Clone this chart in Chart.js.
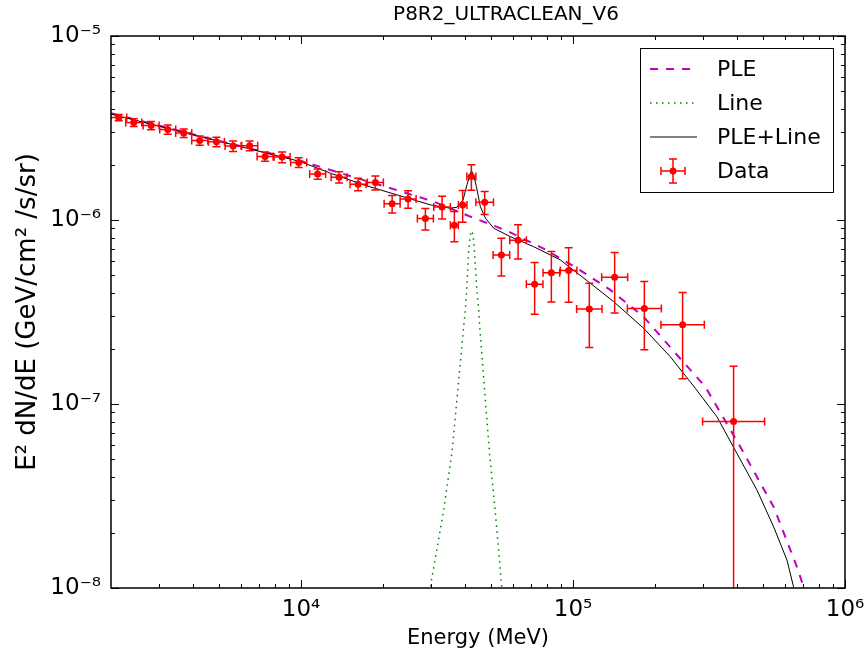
<!DOCTYPE html>
<html>
<head>
<meta charset="utf-8">
<script src="https://cdn.jsdelivr.net/npm/chart.js@4.4.1/dist/chart.umd.min.js"></script>
<style>
  html, body { margin: 0; padding: 0; background: #fff; }
  #wrap { width: 865px; height: 654px; }
</style>
</head>
<body>
<div id="wrap"><canvas id="sedChart" width="865" height="654"></canvas></div>
<script>
// binned data: energy (MeV), bin edges, E^2 dN/dE and its error
const energy = [2135, 2425, 2809, 3233, 3702, 4238, 4882, 5623, 6471, 7373, 8514, 9799,
  11508, 13795, 16203, 18759, 21613, 24743, 28642, 32994, 36609, 39283, 42278, 47315,
  54513, 62791, 72246, 83218, 96340, 114770, 142230, 182900, 252900, 389400];
const eLow = [1995, 2266, 2625, 3021, 3459, 3960, 4562, 5255, 6047, 6890, 7956, 9157,
  10754, 12891, 15141, 17530, 20197, 23122, 26766, 30755, 35392, 37878, 40699, 43920,
  50814, 58530, 67344, 77571, 89802, 103071, 127412, 158382, 210487, 299492];
const eHigh = [2285, 2595, 3006, 3460, 3962, 4535, 5224, 6017, 6925, 7890, 9111, 10486,
  12315, 14762, 17339, 20074, 23128, 26477, 30650, 35396, 37868, 40740, 43918, 50972,
  58482, 67362, 77506, 89276, 103354, 127796, 158771, 211213, 303859, 506298];
const flux = [3.606e-6, 3.388e-6, 3.263e-6, 3.104e-6, 2.967e-6, 2.704e-6, 2.660e-6, 2.521e-6,
  2.531e-6, 2.213e-6, 2.197e-6, 2.053e-6, 1.781e-6, 1.709e-6, 1.566e-6, 1.597e-6,
  1.224e-6, 1.302e-6, 1.018e-6, 1.178e-6, 9.37e-7, 1.208e-6, 1.726e-6, 1.250e-6,
  6.46e-7, 7.77e-7, 4.47e-7, 5.16e-7, 5.32e-7, 3.28e-7, 4.89e-7, 3.30e-7, 2.70e-7, 8.04e-8];
const fluxErr = [1.38e-7, 1.61e-7, 1.68e-7, 1.80e-7, 1.60e-7, 1.57e-7, 1.61e-7, 1.63e-7,
  1.53e-7, 1.28e-7, 1.48e-7, 1.24e-7, 1.15e-7, 1.22e-7, 1.22e-7, 1.40e-7,
  1.34e-7, 1.42e-7, 1.36e-7, 1.66e-7, 1.75e-7, 2.37e-7, 2.73e-7, 1.79e-7,
  1.50e-7, 1.64e-7, 1.40e-7, 1.58e-7, 1.75e-7, 1.25e-7, 1.77e-7, 1.33e-7, 1.33e-7, 7.98e-8];

// model curves
const pleEnergy = [2000, 4264, 9941, 16065, 21900, 30730, 41930, 57200, 77600, 103400,
  137100, 181800, 244400, 306500, 412200, 546500, 666000, 704300, 777800];
const pleFlux = [3.80e-6, 2.85e-6, 2.097e-6, 1.688e-6, 1.471e-6, 1.259e-6, 1.043e-6, 8.73e-7,
  7.02e-7, 5.47e-7, 4.17e-7, 2.98e-7, 1.806e-7, 1.241e-7, 5.85e-8, 2.76e-8, 1.30e-8, 1.013e-8, 6.5e-9];

const lineEnergy = [29760, 30060, 31620, 33440, 35900, 39610, 40180, 40770, 41330, 41930, 42390,
  42900, 43370, 44120, 44980, 45370, 49250, 51500, 53280, 54510, 54970];
const lineFlux = [9.47e-9, 1.074e-8, 1.638e-8, 2.65e-8, 5.49e-8, 2.63e-7, 3.24e-7, 4.53e-7, 6.88e-7,
  8.30e-7, 8.73e-7, 8.30e-7, 6.88e-7, 4.53e-7, 3.24e-7, 2.63e-7, 5.49e-8, 2.82e-8, 1.604e-8,
  1.057e-8, 9.36e-9];

const sumEnergy = [2000, 4264, 9941, 12815, 16990, 22540, 29890, 35390, 37460, 39410, 40770, 42280,
  43190, 44120, 45620, 47610, 51070, 58830, 71640, 89780, 115800, 141000, 181800, 227900,
  281700, 338200, 400700, 474900, 546500, 612100, 647100, 685000];
const sumFlux = [3.763e-6, 2.84e-6, 2.078e-6, 1.797e-6, 1.552e-6, 1.369e-6, 1.208e-6, 1.159e-6,
  1.174e-6, 1.286e-6, 1.562e-6, 1.857e-6, 1.738e-6, 1.519e-6, 1.183e-6, 1.023e-6, 9.02e-7,
  8.12e-7, 7.16e-7, 6.07e-7, 4.53e-7, 3.60e-7, 2.58e-7, 1.806e-7, 1.216e-7, 8.52e-8, 5.38e-8,
  3.40e-8, 2.15e-8, 1.415e-8, 1.013e-8, 7.1e-9];

const xTicks = [1e4, 1e5, 1e6];
const yTicks = [1e-8, 1e-7, 1e-6, 1e-5];
const chartTitle = "P8R2_ULTRACLEAN_V6";

const SUP = { "-": "\u207B", "0": "\u2070", "1": "\u00B9", "2": "\u00B2", "3": "\u00B3",
  "4": "\u2074", "5": "\u2075", "6": "\u2076", "7": "\u2077", "8": "\u2078", "9": "\u2079" };
function powLabel(v) {
  let p = String(Math.round(Math.log10(v)));
  return "10" + p.split("").map(c => SUP[c]).join("");
}

function pts(xs, ys) {
  return xs.map((x, i) => ({ x: x, y: ys[i] }));
}

// title above the axes
const axesTitle = {
  id: "axesTitle",
  afterDraw(chart) {
    const ctx = chart.ctx, a = chart.chartArea;
    ctx.save();
    ctx.fillStyle = "#000";
    ctx.font = "20px 'DejaVu Sans'";
    ctx.textAlign = "center";
    ctx.textBaseline = "middle";
    ctx.fillText(chartTitle, (a.left + a.right) / 2 + 28, a.top - 21);
    ctx.restore();
  }
};

// inward ticks on all four sides + frame
const frameTicks = {
  id: "frameTicks",
  afterDraw(chart) {
    const ctx = chart.ctx, a = chart.chartArea;
    const xs = chart.scales.x, ys = chart.scales.y;
    ctx.save();
    ctx.strokeStyle = "#000";
    ctx.lineWidth = 1;
    const xmaj = [], xmin = [], ymaj = [], ymin = [];
    for (let d = 3; d <= 6; d++) {
      for (let m = 1; m <= 9; m++) {
        let v = m * Math.pow(10, d);
        if (v <= 2000 || v > 1e6) continue;
        (m === 1 ? xmaj : xmin).push(v);
      }
    }
    for (let d = -8; d <= -5; d++) {
      for (let m = 1; m <= 9; m++) {
        let v = m * Math.pow(10, d);
        if (v > 1.0001e-5) continue;
        (m === 1 ? ymaj : ymin).push(v);
      }
    }
    ctx.beginPath();
    xmaj.concat(xmin).forEach(v => {
      let px = Math.round(xs.getPixelForValue(v)) + 0.5;
      let len = xmaj.includes(v) ? 8 : 4;
      ctx.moveTo(px, a.bottom); ctx.lineTo(px, a.bottom - len);
      ctx.moveTo(px, a.top); ctx.lineTo(px, a.top + len);
    });
    ymaj.concat(ymin).forEach(v => {
      let py = Math.round(ys.getPixelForValue(v)) + 0.5;
      let len = ymaj.includes(v) ? 8 : 4;
      ctx.moveTo(a.left, py); ctx.lineTo(a.left + len, py);
      ctx.moveTo(a.right, py); ctx.lineTo(a.right - len, py);
    });
    ctx.stroke();
    ctx.lineWidth = 1.5;
    ctx.strokeRect(a.left, a.top, a.right - a.left, a.bottom - a.top);
    ctx.restore();
  }
};

// error bars under the data markers
const errorBars = {
  id: "errorBars",
  beforeDatasetDraw(chart, args) {
    if (args.index !== 0) return;
    const ctx = chart.ctx, a = chart.chartArea;
    const xs = chart.scales.x, ys = chart.scales.y;
    ctx.save();
    ctx.beginPath();
    ctx.rect(a.left, a.top, a.right - a.left, a.bottom - a.top);
    ctx.clip();
    ctx.strokeStyle = "#ff0000";
    ctx.lineWidth = 1.5;
    const cap = 4;
    ctx.beginPath();
    energy.forEach((e, i) => {
      const px = xs.getPixelForValue(e);
      const py = ys.getPixelForValue(flux[i]);
      const lo = flux[i] - fluxErr[i];
      const yTop = ys.getPixelForValue(flux[i] + fluxErr[i]);
      const yBot = lo > 0 ? ys.getPixelForValue(lo) : a.bottom + 10;
      const xl = xs.getPixelForValue(eLow[i]);
      const xr = xs.getPixelForValue(eHigh[i]);
      ctx.moveTo(px, yTop); ctx.lineTo(px, yBot);
      ctx.moveTo(px - cap, yTop); ctx.lineTo(px + cap, yTop);
      ctx.moveTo(px - cap, yBot); ctx.lineTo(px + cap, yBot);
      ctx.moveTo(xl, py); ctx.lineTo(xr, py);
      ctx.moveTo(xl, py - cap); ctx.lineTo(xl, py + cap);
      ctx.moveTo(xr, py - cap); ctx.lineTo(xr, py + cap);
    });
    ctx.stroke();
    ctx.restore();
  }
};

// matplotlib-like legend box in the upper right
const boxLegend = {
  id: "boxLegend",
  afterDraw(chart) {
    const ctx = chart.ctx, a = chart.chartArea;
    const ds = chart.data.datasets;
    const order = [3, 2, 1, 0];
    const w = 193, h = 144;
    const x0 = a.right - 12 - w, y0 = a.top + 12;
    ctx.save();
    ctx.fillStyle = "#fff";
    ctx.fillRect(x0, y0, w, h);
    ctx.strokeStyle = "#000";
    ctx.lineWidth = 1;
    ctx.strokeRect(x0 + 0.5, y0 + 0.5, w, h);
    ctx.font = "22px 'DejaVu Sans'";
    ctx.textBaseline = "middle";
    order.forEach((di, k) => {
      const d = ds[di];
      const cy = y0 + 21 + k * 34;
      if (di === 0) {
        const cx = x0 + 33;
        ctx.strokeStyle = d.backgroundColor;
        ctx.lineWidth = 1.5;
        ctx.setLineDash([]);
        ctx.beginPath();
        ctx.moveTo(cx - 12, cy); ctx.lineTo(cx + 12, cy);
        ctx.moveTo(cx - 12, cy - 4); ctx.lineTo(cx - 12, cy + 4);
        ctx.moveTo(cx + 12, cy - 4); ctx.lineTo(cx + 12, cy + 4);
        ctx.moveTo(cx, cy - 12); ctx.lineTo(cx, cy + 12);
        ctx.moveTo(cx - 4, cy - 12); ctx.lineTo(cx + 4, cy - 12);
        ctx.moveTo(cx - 4, cy + 12); ctx.lineTo(cx + 4, cy + 12);
        ctx.stroke();
        ctx.fillStyle = d.backgroundColor;
        ctx.beginPath();
        ctx.arc(cx, cy, 3.5, 0, Math.PI * 2);
        ctx.fill();
      } else {
        ctx.strokeStyle = d.borderColor;
        ctx.lineWidth = d.borderWidth;
        ctx.setLineDash(d.borderDash || []);
        ctx.beginPath();
        ctx.moveTo(x0 + 10, cy); ctx.lineTo(x0 + 57, cy);
        ctx.stroke();
      }
      ctx.setLineDash([]);
      ctx.fillStyle = "#000";
      ctx.fillText(d.label, x0 + 77, cy + 1);
    });
    ctx.restore();
  }
};

new Chart("sedChart", {
  type: "scatter",
  data: {
    datasets: [
      {
        label: "Data",
        data: pts(energy, flux),
        backgroundColor: "#ff0000",
        borderWidth: 0,
        pointRadius: 3.5,
        showLine: false
      },
      {
        label: "PLE+Line",
        data: pts(sumEnergy, sumFlux),
        showLine: true,
        borderColor: "#000000",
        borderWidth: 1,
        pointRadius: 0
      },
      {
        label: "Line",
        data: pts(lineEnergy, lineFlux),
        showLine: true,
        borderColor: "#008000",
        borderWidth: 1.5,
        borderDash: [1.5, 4.5],
        pointRadius: 0
      },
      {
        label: "PLE",
        data: pts(pleEnergy, pleFlux),
        showLine: true,
        borderColor: "#bf00bf",
        borderWidth: 2,
        borderDash: [8, 8],
        pointRadius: 0
      }
    ]
  },
  options: {
    responsive: false,
    animation: false,
    events: [],
    layout: { padding: { left: 0, right: 20, top: 36, bottom: 0 } },
    plugins: {
      legend: { display: false },
      tooltip: { enabled: false },
      title: { display: false }
    },
    scales: {
      x: {
        type: "logarithmic",
        min: 2000,
        max: 1e6,
        grid: { display: false, drawTicks: false },
        border: { display: false },
        afterBuildTicks: s => { s.ticks = xTicks.map(v => ({ value: v })); },
        afterFit: s => { s.height = 66; s.paddingLeft = 0; s.paddingRight = 0; },
        ticks: {
          color: "#000",
          padding: 8,
          maxRotation: 0,
          autoSkip: false,
          font: { family: "'DejaVu Sans'", size: 23 },
          callback: v => powLabel(v)
        },
        title: {
          display: true,
          text: "Energy (MeV)",
          color: "#000",
          font: { family: "'DejaVu Sans'", size: 21 },
          padding: { top: 0, bottom: 3 }
        }
      },
      y: {
        type: "logarithmic",
        min: 1e-8,
        max: 1e-5,
        grid: { display: false, drawTicks: false },
        border: { display: false },
        afterBuildTicks: s => { s.ticks = yTicks.map(v => ({ value: v })); },
        afterFit: s => { s.width = 111; },
        ticks: {
          color: "#000",
          padding: 10,
          autoSkip: false,
          font: { family: "'DejaVu Sans'", size: 23 },
          callback: v => powLabel(v)
        },
        title: {
          display: true,
          text: "E\u00B2 dN/dE (GeV/cm\u00B2 /s/sr)",
          color: "#000",
          font: { family: "'DejaVu Sans'", size: 26 },
          padding: { top: 13, bottom: 0 }
        }
      }
    }
  },
  plugins: [errorBars, frameTicks, boxLegend, axesTitle]
});
</script>
</body>
</html>
